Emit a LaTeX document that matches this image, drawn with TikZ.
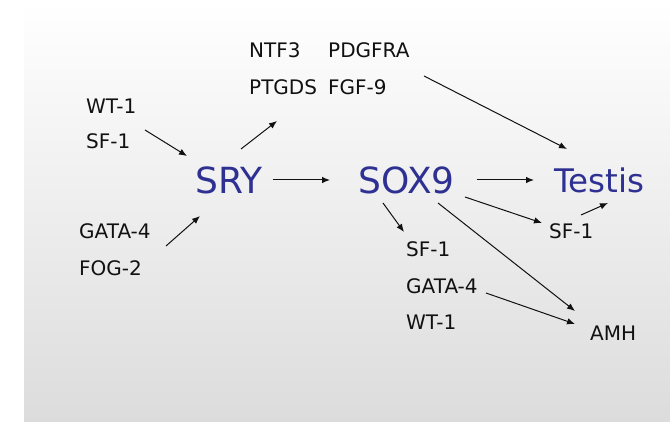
\documentclass[tikz,border=0pt]{standalone}
\usepackage{fontspec}
\setmainfont{DejaVu Sans}
\usetikzlibrary{arrows.meta}
\definecolor{genblue}{HTML}{2E3192}
\definecolor{bgbot}{HTML}{DCDCDC}
\definecolor{txt}{HTML}{111111}
\begin{document}
\begin{tikzpicture}[x=1pt,y=-1pt,
  gene/.style={anchor=west,inner sep=0pt,text=txt,font=\fontsize{20}{21}\selectfont},
  big/.style={anchor=west,inner sep=0pt,text=genblue,font=\fontsize{36}{37}\selectfont},
  arr/.style={-{Latex[length=8pt,width=6.5pt]},line width=1pt,draw=txt}]
\useasboundingbox (0,0) rectangle (670,422);
\shade[top color=white,bottom color=bgbot] (24,3) rectangle (670,422);
% nodes
\node[gene] (wt1a) at (86,106) {WT-1};
\node[gene] (sf1a) at (86,141) {SF-1};
\node[gene] (gata4a) at (79,231) {GATA-4};
\node[gene] (fog2) at (79,268) {FOG-2};
\node[big] (sry) at (195,180) {SRY};
\node[gene] (ntf3) at (249,50) {NTF3};
\node[gene] (ptgds) at (249,87) {PTGDS};
\node[gene] (pdgfra) at (328,50) {PDGFRA};
\node[gene] (fgf9) at (328,87) {FGF-9};
\node[big] (sox9) at (358,180) {SOX9};
\node[big,font=\fontsize{32.5}{33}\selectfont] (testis) at (554,180) {Testis};
\node[gene] (sf1r) at (549,231) {SF-1};
\node[gene] (sf1b) at (406,249) {SF-1};
\node[gene] (gata4b) at (406,286) {GATA-4};
\node[gene] (wt1b) at (406,322) {WT-1};
\node[gene] (amh) at (590,333) {AMH};
% arrow ends
\coordinate (a1s) at (145,130); \coordinate (a1e) at (187,156);
\coordinate (a2s) at (166,246); \coordinate (a2e) at (200,216);
\coordinate (a3s) at (241,149); \coordinate (a3e) at (277,121);
\coordinate (a5s) at (424,76);  \coordinate (a5e) at (567,149);
\coordinate (a7s) at (465,197); \coordinate (a7e) at (542,223);
\coordinate (a8s) at (581,215); \coordinate (a8e) at (608,203);
\coordinate (a9s) at (383,203); \coordinate (a9e) at (404,232);
\coordinate (a10s) at (438,203); \coordinate (a10e) at (575,311);
\coordinate (a11s) at (486,293); \coordinate (a11e) at (575,324);
% connectors
\draw[arr] (a1s) -- (a1e);
\draw[arr] (a2s) -- (a2e);
\draw[arr] (a3s) -- (a3e);
\draw[arr,shorten <=10pt,shorten >=28pt] (sry.east) -- (sox9.west);
\draw[arr] (a5s) -- (a5e);
\draw[arr,shorten <=22pt,shorten >=20pt] (sox9.east) -- (testis.west);
\draw[arr] (a7s) -- (a7e);
\draw[arr] (a8s) -- (a8e);
\draw[arr] (a9s) -- (a9e);
\draw[arr] (a10s) -- (a10e);
\draw[arr] (a11s) -- (a11e);
\end{tikzpicture}
\end{document}
